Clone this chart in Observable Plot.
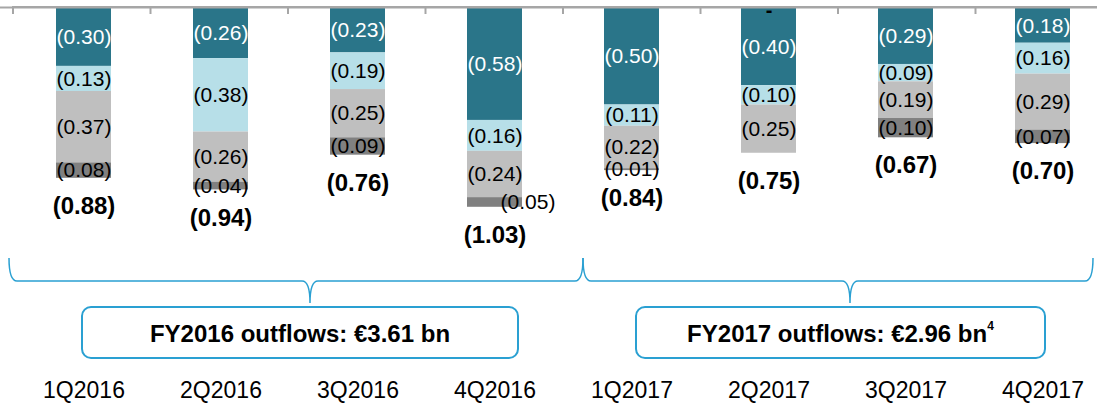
<!DOCTYPE html>
<html><head><meta charset="utf-8">
<script src="https://cdn.jsdelivr.net/npm/d3@7"></script>
<script src="https://cdn.jsdelivr.net/npm/@observablehq/plot@0.6"></script>
<style>
body{margin:0;background:#fff}
svg{font-family:"Liberation Sans",Arial,sans-serif}
</style>
</head><body><div id="chart"></div>
<script>
// ---- data ----
const quarters = ["1Q2016","2Q2016","3Q2016","4Q2016","1Q2017","2Q2017","3Q2017","4Q2017"];
const seriesNames = ["A","B","C","D"];
const teal      = [0.30,0.26,0.23,0.58,0.50,0.40,0.29,0.18];
const lightBlue = [0.13,0.38,0.19,0.16,0.11,0.10,0.09,0.16];
const gray      = [0.37,0.26,0.25,0.24,0.22,0.25,0.19,0.29];
const darkGray  = [0.08,0.04,0.09,0.05,0.01,0.00,0.10,0.07];
const totals    = [0.88,0.94,0.76,1.03,0.84,0.75,0.67,0.70];
const fyText    = ["FY2016 outflows: €3.61 bn","FY2017 outflows: €2.96 bn"];
const fySup     = ["","4"];
const colors    = ["#2a7589","#b7dfe8","#bfbfbf","#808080"];
const labelColors = ["#ffffff","#000000","#000000","#000000"];

const fmt = v => "(" + v.toFixed(2) + ")";
const seriesValues = [teal, lightBlue, gray, darkGray];

const rows = [];
quarters.forEach((q, i) => {
  let acc = 0;
  seriesValues.forEach((arr, s) => {
    const v = arr[i];
    rows.push({q, s, v, y1: acc, y2: acc + v, mid: acc + v/2});
    acc += v;
  });
});
const segs = rows.filter(d => d.v > 0);
const normalLabels = segs.filter(d => !(d.q === "4Q2016" && d.s === 3));
const shiftedLabels = segs.filter(d => d.q === "4Q2016" && d.s === 3);
const zeroLabels = rows.filter(d => d.v === 0);
const totalRows = quarters.map((q,i) => ({q, t: totals[i]}));

const xRange = [13, 1113];
const plot = Plot.plot({
  width: 1097, height: 411,
  marginTop: 0, marginRight: 0, marginBottom: 0, marginLeft: 0,
  style: {fontFamily: '"Liberation Sans", Arial, sans-serif', background: "#fff"},
  x: {domain: quarters, range: xRange, paddingInner: 0.6, paddingOuter: 0.3, axis: null},
  y: {domain: [0, 1], range: [8, 201], axis: null},
  marks: [
    Plot.barY(segs, {x: "q", y1: "y1", y2: "y2", fill: d => colors[d.s]}),
    Plot.ruleY([0], {stroke: "#a6a6a6", strokeWidth: 2, dy: -1}),
    Plot.text(normalLabels, {x: "q", y: "mid", text: d => fmt(d.v), fill: d => labelColors[d.s], fontSize: 21}),
    Plot.text(shiftedLabels, {x: "q", y: "mid", text: d => fmt(d.v), fill: d => labelColors[d.s], fontSize: 21, dx: 33}),
    Plot.text(zeroLabels, {x: "q", y: 0, text: d => "-", fill: "#000", fontSize: 20, fontWeight: "bold", dy: 2}),
    Plot.text(totalRows, {x: "q", y: "t", text: d => fmt(d.t), fontSize: 24, fontWeight: "bold", dy: 28, fill: "#000"}),
    Plot.text(quarters, {x: d => d, frameAnchor: "bottom", dy: -14, fontSize: 23, fill: "#000"})
  ]
});
document.getElementById("chart").appendChild(plot);

// ---- annotations (axis ticks, braces, boxes) ----
const band = d3.scaleBand().domain(quarters).range(xRange).paddingInner(0.6).paddingOuter(0.3);
const step = band.step();
const svg = d3.select(plot);
const g = svg.append("g");
quarters.forEach(q => {
  const xb = band(q) - band.paddingOuter() * step;
  g.append("line").attr("x1", xb).attr("x2", xb).attr("y1", 6).attr("y2", 14)
    .attr("stroke", "#a6a6a6").attr("stroke-width", 2);
});
g.append("line").attr("x1", 13).attr("x2", 1097).attr("y1", 7).attr("y2", 7)
  .attr("stroke", "#a6a6a6").attr("stroke-width", 2);

const braceColor = "#2aa0d2";
function brace(xa, xb, xt) {
  const y0 = 258, y1 = 281, y2 = 303, r = 8;
  return `M${xa},${y0} Q${xa},${y1} ${xa+r},${y1} L${xt-r},${y1} Q${xt},${y1} ${xt},${y2} Q${xt},${y1} ${xt+r},${y1} L${xb-r},${y1} Q${xb},${y1} ${xb},${y0}`;
}
g.append("path").attr("d", brace(9, 583, 310)).attr("fill","none").attr("stroke",braceColor).attr("stroke-width",1.5);
g.append("path").attr("d", brace(583, 1093, 850)).attr("fill","none").attr("stroke",braceColor).attr("stroke-width",1.5);

const boxes = [{x0: 82, x1: 518}, {x0: 636, x1: 1045}];
boxes.forEach((b, i) => {
  g.append("rect").attr("x", b.x0).attr("y", 307).attr("width", b.x1 - b.x0).attr("height", 51)
    .attr("rx", 9).attr("fill", "#fff").attr("stroke", braceColor).attr("stroke-width", 2);
  const t = g.append("text").attr("x", (b.x0 + b.x1)/2).attr("y", 333)
    .attr("text-anchor", "middle").attr("dominant-baseline", "central")
    .attr("font-size", 24).attr("font-weight", "bold").attr("fill", "#000");
  t.append("tspan").text(fyText[i]);
  if (fySup[i]) t.append("tspan").attr("font-size", 12).attr("dy", -7).text(fySup[i]);
});
</script>
</body></html>
